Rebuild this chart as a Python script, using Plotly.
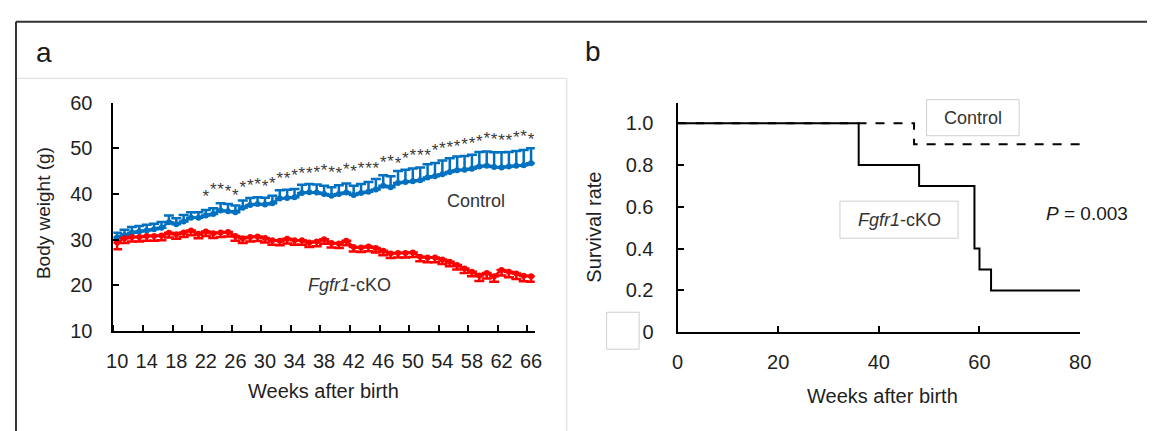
import plotly.graph_objects as go

W, H = 1155, 431
OFF = 8  # page body margin in the viewer

def px(x):
    return (x - OFF) / W

def py(y):
    return 1 - (y - OFF) / H

# ---------------- Panel a data ----------------
weeks = list(range(10, 67))
control_mean = [30.5, 31.0, 31.5, 31.8, 32.0, 32.3, 32.6, 33.8, 33.4, 34.0,
                34.8, 34.8, 35.3, 35.6, 36.4, 36.2, 36.0, 37.0, 37.6, 37.8,
                37.7, 38.0, 39.0, 39.1, 39.3, 40.2, 40.4, 40.3, 40.0, 39.6,
                40.0, 40.3, 39.8, 40.2, 40.5, 41.0, 41.8, 41.5, 42.4, 42.6,
                42.8, 43.0, 43.6, 43.9, 44.3, 44.8, 45.2, 45.3, 45.5, 46.0,
                46.2, 45.9, 45.8, 46.0, 46.2, 46.3, 46.7]
control_err = [1.0, 1.2, 1.3, 1.2, 1.3, 1.2, 1.3, 1.5, 1.3, 1.4,
               1.2, 1.2, 1.2, 1.3, 1.6, 1.6, 1.5, 1.6, 1.5, 1.5,
               1.5, 1.6, 1.8, 1.8, 1.8, 1.8, 1.8, 1.8, 1.8, 1.9,
               1.9, 2.0, 2.0, 2.0, 2.1, 2.3, 2.3, 2.4, 2.6, 2.7,
               2.8, 2.8, 2.9, 2.9, 3.0, 3.0, 3.0, 3.0, 3.1, 3.2,
               3.1, 3.2, 3.3, 3.2, 3.2, 3.3, 3.3]
cko_mean = [29.4, 30.3, 30.6, 30.6, 30.8, 30.8, 30.9, 31.5, 31.2, 31.6,
            32.0, 31.3, 31.8, 31.4, 31.6, 31.7, 30.8, 30.3, 30.6, 30.7,
            30.4, 29.9, 29.8, 30.2, 29.9, 29.9, 29.4, 29.6, 30.1, 29.3,
            29.2, 29.8, 28.4, 28.3, 28.5, 28.2, 27.6, 27.0, 27.1, 27.1,
            27.2, 26.3, 26.1, 26.1, 25.7, 25.2, 24.5, 23.7, 23.0, 22.2,
            22.7, 22.0, 23.4, 23.0, 22.6, 22.1, 22.0]
cko_err = [1.5, 1.0, 1.0, 1.0, 1.0, 1.0, 1.0, 1.0, 1.0, 1.0,
           1.0, 1.0, 1.0, 1.0, 1.0, 1.0, 1.0, 1.0, 1.0, 1.0,
           1.0, 1.0, 1.0, 1.0, 1.0, 1.0, 1.0, 1.0, 1.0, 1.0,
           1.0, 1.0, 1.0, 1.0, 1.0, 1.0, 1.0, 1.0, 1.0, 1.0,
           1.0, 1.0, 1.0, 1.0, 1.0, 1.0, 1.0, 1.0, 1.0, 1.2,
           1.2, 1.2, 1.2, 1.2, 1.2, 1.2, 1.2]
star_weeks = list(range(22, 67))
star_y = [39.1, 40.6, 40.8, 40.3, 39.4, 41.2, 41.5, 41.9, 41.3, 42.0,
          43.2, 43.2, 43.8, 44.3, 44.3, 44.5, 44.8, 44.5, 44.3, 45.0,
          44.6, 45.3, 45.3, 45.4, 46.7, 46.8, 46.3, 47.4, 48.1, 48.2,
          48.2, 49.3, 49.7, 49.9, 50.1, 50.5, 50.7, 51.2, 51.9, 51.7,
          51.4, 51.5, 52.0, 52.3, 51.7]
a_xtick_vals = list(range(10, 67, 4))
a_ytick_vals = [10, 20, 30, 40, 50, 60]

# ---------------- Panel b data ----------------
cko_surv_t = [0, 36, 48, 59, 60, 62.3, 80]
cko_surv_s = [1.0, 0.8, 0.7, 0.4, 0.3, 0.2, 0.2]
ctrl_surv_t = [0, 47, 80]
ctrl_surv_s = [1.0, 0.9, 0.9]
b_ytick_vals = [0, 0.2, 0.4, 0.6, 0.8, 1.0]
b_ytick_text = ["0", "0.2", "0.4", "0.6", "0.8", "1.0"]
b_xtick_vals = [0, 20, 40, 60, 80]

FONT = "Liberation Sans, Arial, sans-serif"
BLUE = "#0070C0"
RED = "#FF0000"
TXT = "#1f1f1f"

fig = go.Figure()

fig.add_trace(go.Scatter(
    x=weeks, y=control_mean, mode="lines+markers",
    line=dict(color=BLUE, width=2.5), marker=dict(color=BLUE, size=6),
    error_y=dict(type="data", symmetric=False, array=control_err,
                 arrayminus=[0] * len(control_err), color=BLUE,
                 thickness=2.5, width=5),
    xaxis="x", yaxis="y", showlegend=False, cliponaxis=False))
fig.add_trace(go.Scatter(
    x=weeks, y=cko_mean, mode="lines+markers",
    line=dict(color=RED, width=2.5), marker=dict(color=RED, size=6),
    error_y=dict(type="data", symmetric=False, array=[0] * len(cko_err),
                 arrayminus=cko_err, color=RED, thickness=2.5, width=5),
    xaxis="x", yaxis="y", showlegend=False, cliponaxis=False))
fig.add_trace(go.Scatter(
    x=star_weeks, y=star_y, mode="text", text=["*"] * len(star_weeks),
    textposition="middle center",
    textfont=dict(family=FONT, size=17, color="#3a3a3a"),
    xaxis="x", yaxis="y", showlegend=False, cliponaxis=False))

fig.add_trace(go.Scatter(
    x=ctrl_surv_t, y=ctrl_surv_s, mode="lines", line_shape="hv",
    line=dict(color="black", width=2, dash="dash"),
    xaxis="x2", yaxis="y2", showlegend=False))
fig.add_trace(go.Scatter(
    x=cko_surv_t, y=cko_surv_s, mode="lines", line_shape="hv",
    line=dict(color="black", width=2),
    xaxis="x2", yaxis="y2", showlegend=False))

tickfont = dict(family=FONT, size=20, color=TXT)

fig.update_layout(
    width=W, height=H, margin=dict(l=0, r=0, t=0, b=0),
    paper_bgcolor="white", plot_bgcolor="rgba(0,0,0,0)",
    font=dict(family=FONT, color=TXT),
    xaxis=dict(domain=[px(108), px(536)], range=[9.5, 66.5],
               tickmode="array", tickvals=a_xtick_vals,
               ticktext=[str(v) for v in a_xtick_vals],
               ticks="", showgrid=False, zeroline=False,
               showline=True, linecolor="black", linewidth=2,
               tickfont=tickfont, ticklabelstandoff=11,
               minor=dict(tickmode="linear", tick0=9.5, dtick=4,
                          ticks="inside", ticklen=6, tickwidth=2,
                          tickcolor="black", showgrid=False),
               anchor="y"),
    yaxis=dict(domain=[py(337), py(96)], range=[10, 60],
               tickmode="array", tickvals=a_ytick_vals,
               ticks="inside", ticklen=6, tickwidth=2, tickcolor="black",
               showgrid=False, zeroline=False,
               showline=True, linecolor="black", linewidth=2,
               tickfont=tickfont, ticklabelstandoff=15, anchor="x"),
    xaxis2=dict(domain=[px(681), px(1090)], range=[0, 80],
                tickmode="array", tickvals=b_xtick_vals,
                ticks="inside", ticklen=6, tickwidth=2, tickcolor="black",
                showgrid=False, zeroline=False,
                showline=True, linecolor="black", linewidth=2,
                tickfont=tickfont, ticklabelstandoff=11, anchor="y2"),
    yaxis2=dict(domain=[py(338), py(97)], range=[0, 1.095],
                tickmode="array", tickvals=b_ytick_vals, ticktext=b_ytick_text,
                ticks="inside", ticklen=6, tickwidth=2, tickcolor="black",
                showgrid=False, zeroline=False,
                showline=True, linecolor="black", linewidth=2,
                tickfont=tickfont, ticklabelstandoff=18, anchor="x2"),
)

shapes = [
    # panel a light gray box
    dict(type="rect", xref="paper", yref="paper", x0=px(9), x1=px(568.5), y0=-0.05, y1=py(70.5),
         line=dict(color="#d9d9d9", width=1), fillcolor="rgba(0,0,0,0)", layer="below"),
    # outer frame lines
    dict(type="line", xref="paper", yref="paper", x0=px(9), x1=1.01, y0=py(11), y1=py(11),
         line=dict(color="#333333", width=2)),
    dict(type="line", xref="paper", yref="paper", x0=px(9), x1=px(9), y0=py(11), y1=-0.05,
         line=dict(color="#333333", width=2)),
    # panel b label boxes
    dict(type="rect", xref="paper", yref="paper", x0=px(934), x1=px(1028), y0=py(131), y1=py(93),
         line=dict(color="#cfcfcf", width=1), fillcolor="white", layer="above"),
    dict(type="rect", xref="paper", yref="paper", x0=px(846), x1=px(966), y0=py(239), y1=py(200),
         line=dict(color="#cfcfcf", width=1), fillcolor="white", layer="above"),
    # small empty box near the 0 tick label
    dict(type="rect", xref="paper", yref="paper", x0=px(609), x1=px(642), y0=py(356), y1=py(317),
         line=dict(color="#cfcfcf", width=1), fillcolor="white", layer="above"),
]
fig.update_layout(shapes=shapes)

def ann(text, x, y, size=18, angle=0, color=TXT, xanchor="center"):
    return dict(text=text, x=px(x), y=py(y), xref="paper", yref="paper",
                showarrow=False, xanchor=xanchor, yanchor="middle", textangle=angle,
                font=dict(family=FONT, size=size, color=color))

annotations = [
    ann("a", 37, 43, size=28, color="#1a1a1a"),
    ann("b", 595, 42, size=28, color="#1a1a1a"),
    ann("Body weight (g)", 37, 213, size=19, angle=-90),
    ann("Weeks after birth", 321, 400, size=20),
    ann("Control", 476, 200, size=18, color="#333333"),
    ann("<i>Fgfr1</i>-cKO", 348, 288, size=18, color="#333333"),
    ann("Survival rate", 596, 227, size=20, angle=-90),
    ann("Weeks after birth", 889, 405, size=20),
    ann("Control", 981, 112, size=18, color="#333333"),
    ann("<i>Fgfr1</i>-cKO", 906, 220, size=18, color="#333333"),
    ann("<i>P</i> = 0.003", 1097, 213, size=19, color="#1a1a1a"),
]
fig.update_layout(annotations=annotations)

fig.write_html("out.html")
